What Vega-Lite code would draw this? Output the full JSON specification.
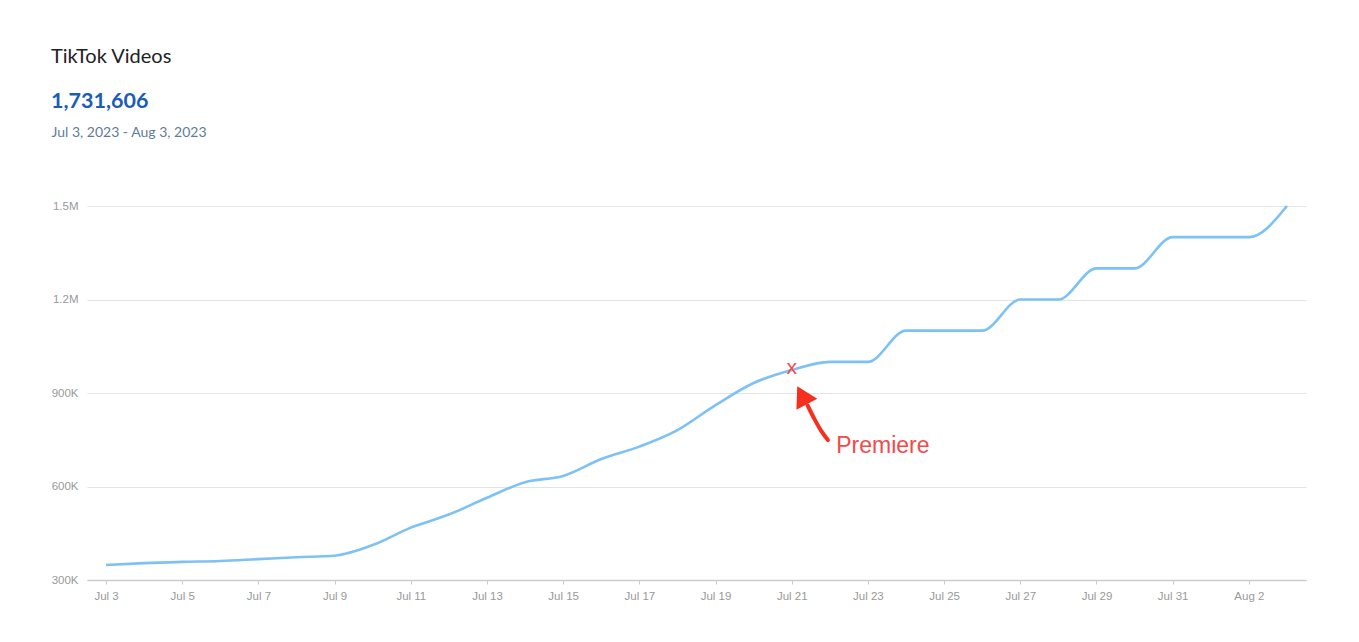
{
  "$schema": "https://vega.github.io/schema/vega-lite/v6.json",
  "width": 1219,
  "height": 374,
  "autosize": "none",
  "padding": {"left": 87, "top": 206, "right": 53, "bottom": 62},
  "background": "white",
  "title": {
    "text": "TikTok Videos",
    "subtitle": "1,731,606",
    "anchor": "start",
    "frame": "group",
    "dx": -36,
    "offset": 13,
    "font": "Lato",
    "fontSize": 20,
    "fontWeight": "normal",
    "color": "#222222",
    "subtitleFont": "Lato",
    "subtitleFontSize": 21.5,
    "subtitleFontWeight": "bold",
    "subtitleColor": "#1b5cb8",
    "subtitlePadding": 24
  },
  "datasets": {
    "videos": [
      {"date": "2023-07-03T00:00", "value": 348000},
      {"date": "2023-07-04T00:00", "value": 354000},
      {"date": "2023-07-05T00:00", "value": 358000},
      {"date": "2023-07-06T00:00", "value": 361000},
      {"date": "2023-07-07T00:00", "value": 367000},
      {"date": "2023-07-08T00:00", "value": 373000},
      {"date": "2023-07-09T00:00", "value": 378000},
      {"date": "2023-07-10T00:00", "value": 412000},
      {"date": "2023-07-11T00:00", "value": 468000},
      {"date": "2023-07-12T00:00", "value": 510000},
      {"date": "2023-07-13T00:00", "value": 564000},
      {"date": "2023-07-14T00:00", "value": 614000},
      {"date": "2023-07-15T00:00", "value": 634000},
      {"date": "2023-07-16T00:00", "value": 688000},
      {"date": "2023-07-17T00:00", "value": 728000},
      {"date": "2023-07-18T00:00", "value": 781000},
      {"date": "2023-07-19T00:00", "value": 861000},
      {"date": "2023-07-20T00:00", "value": 932000},
      {"date": "2023-07-21T00:00", "value": 974000},
      {"date": "2023-07-22T00:00", "value": 1000000},
      {"date": "2023-07-23T00:00", "value": 1000000},
      {"date": "2023-07-24T00:00", "value": 1100000},
      {"date": "2023-07-25T00:00", "value": 1100000},
      {"date": "2023-07-26T00:00", "value": 1100000},
      {"date": "2023-07-27T00:00", "value": 1200000},
      {"date": "2023-07-28T00:00", "value": 1200000},
      {"date": "2023-07-29T00:00", "value": 1300000},
      {"date": "2023-07-30T00:00", "value": 1300000},
      {"date": "2023-07-31T00:00", "value": 1400000},
      {"date": "2023-08-01T00:00", "value": 1400000},
      {"date": "2023-08-02T00:00", "value": 1400000},
      {"date": "2023-08-03T00:00", "value": 1500000}
    ],
    "premiere": [
      {"date": "2023-07-21T00:00", "value": 974000, "label": "x"}
    ],
    "arrow": [
      {"date": "2023-07-21T10:00", "value": 860000},
      {"date": "2023-07-21T14:40", "value": 813000},
      {"date": "2023-07-21T19:00", "value": 775000},
      {"date": "2023-07-21T22:48", "value": 749000}
    ],
    "arrowhead": [
      {"date": "2023-07-21T06:30", "value": 893000}
    ],
    "note": [
      {"date": "2023-07-22T04:00", "value": 730000, "label": "Premiere"}
    ]
  },
  "encoding": {
    "x": {
      "field": "date",
      "type": "temporal",
      "title": null,
      "scale": {
        "domain": [
          {"year": 2023, "month": 7, "date": 2, "hours": 12},
          {"year": 2023, "month": 8, "date": 3, "hours": 12}
        ]
      },
      "axis": {
        "format": "%b %-d",
        "values": [
          {"year": 2023, "month": 7, "date": 3},
          {"year": 2023, "month": 7, "date": 5},
          {"year": 2023, "month": 7, "date": 7},
          {"year": 2023, "month": 7, "date": 9},
          {"year": 2023, "month": 7, "date": 11},
          {"year": 2023, "month": 7, "date": 13},
          {"year": 2023, "month": 7, "date": 15},
          {"year": 2023, "month": 7, "date": 17},
          {"year": 2023, "month": 7, "date": 19},
          {"year": 2023, "month": 7, "date": 21},
          {"year": 2023, "month": 7, "date": 23},
          {"year": 2023, "month": 7, "date": 25},
          {"year": 2023, "month": 7, "date": 27},
          {"year": 2023, "month": 7, "date": 29},
          {"year": 2023, "month": 7, "date": 31},
          {"year": 2023, "month": 8, "date": 2}
        ],
        "grid": false,
        "domainColor": "#cccccc",
        "domainWidth": 1.5,
        "tickColor": "#cccccc",
        "tickSize": 4,
        "labelFont": "Liberation Sans",
        "labelFontSize": 11.5,
        "labelColor": "#999999",
        "labelPadding": 6
      }
    },
    "y": {
      "field": "value",
      "type": "quantitative",
      "title": "Jul 3, 2023 - Aug 3, 2023",
      "scale": {"domain": [300000, 1500000], "nice": false},
      "axis": {
        "values": [300000, 600000, 900000, 1200000, 1500000],
        "labelExpr": "datum.value >= 1000000 ? format(datum.value / 1000000, '.1f') + 'M' : format(datum.value / 1000, 'd') + 'K'",
        "domain": false,
        "ticks": false,
        "gridColor": "#e3e3e3",
        "labelFont": "Liberation Sans",
        "labelFontSize": 11.5,
        "labelColor": "#999999",
        "labelPadding": 9,
        "titleAngle": 0,
        "titleAlign": "left",
        "titleBaseline": "middle",
        "titleX": -36,
        "titleY": -74,
        "titleFont": "Lato",
        "titleFontSize": 14,
        "titleFontWeight": "normal",
        "titleColor": "#5f7c99"
      }
    }
  },
  "layer": [
    {
      "data": {"name": "videos"},
      "mark": {"type": "line", "interpolate": "monotone", "color": "#7dc1f5", "strokeWidth": 2.6}
    },
    {
      "data": {"name": "premiere"},
      "mark": {"type": "text", "color": "#f24a4a", "fontSize": 21, "font": "Liberation Sans", "baseline": "middle", "dy": -2},
      "encoding": {"text": {"field": "label"}}
    },
    {
      "data": {"name": "arrow"},
      "mark": {"type": "line", "interpolate": "monotone", "color": "#f5301f", "strokeWidth": 4, "strokeCap": "round"}
    },
    {
      "data": {"name": "arrowhead"},
      "mark": {"type": "point", "shape": "triangle-up", "filled": true, "opacity": 1, "color": "#f5301f", "size": 560, "angle": -28}
    },
    {
      "data": {"name": "note"},
      "mark": {"type": "text", "color": "#f24a4a", "fontSize": 23, "font": "Liberation Sans", "align": "left", "baseline": "middle"},
      "encoding": {"text": {"field": "label"}}
    }
  ],
  "config": {
    "view": {"stroke": null}
  }
}
